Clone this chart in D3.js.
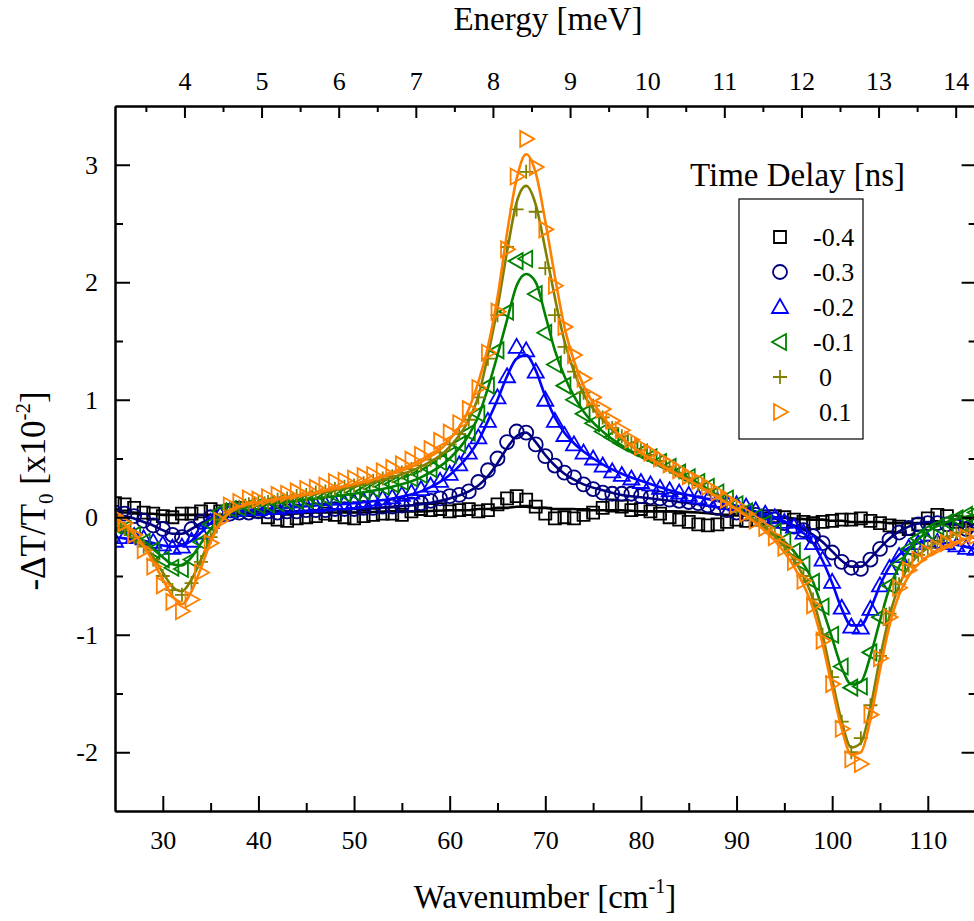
<!DOCTYPE html>
<html>
<head>
<meta charset="utf-8">
<script src="https://cdn.jsdelivr.net/npm/d3@7"></script>
<style>
  body { margin: 0; background: #fff; }
  svg text { font-family: "Liberation Serif", "Times New Roman", serif; fill: #000; }
</style>
</head>
<body>
<div class="canva"></div>
<script>
// ---- data ----
const delays = ["-0.4", "-0.3", "-0.2", "-0.1", "0", "0.1"];
const colors = ["#000000", "#000080", "#0000ff", "#008000", "#808000", "#ff8000"];
const shapes = ["square", "circle", "triUp", "triLeft", "plus", "triRight"];

// measured points (cm^-1)
const wavenumber = [25, 26, 27, 28, 29, 30, 31, 32, 33, 34, 35, 36, 37, 38, 39, 40, 41, 42, 43, 44,
  45, 46, 47, 48, 49, 50, 51, 52, 53, 54, 55, 56, 57, 58, 59, 60, 61, 62, 63, 64,
  65, 66, 67, 68, 69, 70, 71, 72, 73, 74, 75, 76, 77, 78, 79, 80, 81, 82, 83, 84,
  85, 86, 87, 88, 89, 90, 91, 92, 93, 94, 95, 96, 97, 98, 99, 100, 101, 102, 103, 104,
  105, 106, 107, 108, 109, 110, 111, 112, 113, 114, 115];

const dataM04 = [0.12, 0.11, 0.08, 0.04, 0.03, 0.01, 0.0, 0.03, 0.03, 0.05, 0.07, 0.05, 0.06, 0.08, 0.06, 0.05, 0.0, -0.02, -0.03, -0.01,
  0.0, 0.01, 0.03, 0.02, 0.0, -0.01, 0.01, 0.02, 0.03, 0.03, 0.02, 0.05, 0.07, 0.06, 0.07, 0.05, 0.06, 0.07, 0.05, 0.06,
  0.11, 0.16, 0.18, 0.15, 0.09, 0.03, -0.01, 0.0, -0.01, 0.02, 0.04, 0.08, 0.1, 0.09, 0.06, 0.07, 0.05, 0.03, 0.0, -0.02,
  -0.04, -0.06, -0.07, -0.06, -0.04, -0.02, -0.03, -0.02, -0.01, 0.01, 0.0, -0.02, -0.04, -0.05, -0.04, -0.03, -0.02, -0.02, -0.01, -0.03,
  -0.05, -0.07, -0.08, -0.1, -0.06, -0.01, 0.02, 0.01, -0.04, -0.06, -0.07];
const dataM03 = [0.04, 0.03, 0.01, -0.03, -0.07, -0.1, -0.15, -0.17, -0.1, -0.04, 0.0, 0.02, 0.03, 0.04, 0.04, 0.05, 0.05, 0.04, 0.05, 0.05,
  0.06, 0.06, 0.06, 0.07, 0.07, 0.07, 0.08, 0.08, 0.09, 0.09, 0.1, 0.11, 0.12, 0.14, 0.16, 0.18, 0.19, 0.22, 0.3, 0.4,
  0.5, 0.64, 0.73, 0.72, 0.62, 0.52, 0.44, 0.38, 0.34, 0.28, 0.24, 0.21, 0.2, 0.2, 0.2, 0.18, 0.17, 0.16, 0.15, 0.14,
  0.13, 0.12, 0.1, 0.08, 0.06, 0.04, 0.03, 0.02, 0.0, -0.02, -0.05, -0.08, -0.11, -0.16, -0.22, -0.3, -0.38, -0.43, -0.44, -0.36,
  -0.27, -0.19, -0.13, -0.09, -0.06, -0.05, -0.05, -0.06, -0.08, -0.1, -0.12];
const dataM02 = [-0.2, -0.17, -0.16, -0.18, -0.21, -0.23, -0.26, -0.25, -0.2, -0.13, -0.04, 0.02, 0.05, 0.06, 0.07, 0.07, 0.08, 0.08, 0.09, 0.09,
  0.1, 0.1, 0.11, 0.12, 0.12, 0.13, 0.14, 0.15, 0.16, 0.17, 0.19, 0.21, 0.24, 0.27, 0.31, 0.37, 0.45, 0.55, 0.68, 0.82,
  1.02, 1.2, 1.45, 1.42, 1.24, 1.0, 0.82, 0.7, 0.62, 0.55, 0.5, 0.44, 0.39, 0.36, 0.33, 0.3, 0.28, 0.25, 0.23, 0.21,
  0.19, 0.17, 0.15, 0.14, 0.12, 0.11, 0.09, 0.06, 0.03, 0.0, -0.04, -0.08, -0.13, -0.22, -0.36, -0.55, -0.77, -0.93, -0.94, -0.78,
  -0.58, -0.43, -0.33, -0.26, -0.22, -0.2, -0.21, -0.22, -0.24, -0.26, -0.27];
const dataM01 = [-0.07, -0.1, -0.15, -0.21, -0.28, -0.36, -0.43, -0.44, -0.36, -0.21, -0.06, 0.05, 0.07, 0.08, 0.09, 0.1, 0.11, 0.12, 0.13, 0.14,
  0.15, 0.16, 0.17, 0.19, 0.2, 0.21, 0.22, 0.24, 0.26, 0.28, 0.3, 0.33, 0.36, 0.41, 0.47, 0.53, 0.62, 0.72, 0.88, 1.12,
  1.42, 1.75, 2.18, 2.2, 1.9, 1.57, 1.3, 1.12, 1.0, 0.88, 0.8, 0.73, 0.68, 0.63, 0.59, 0.55, 0.51, 0.47, 0.43, 0.38,
  0.34, 0.3, 0.26, 0.21, 0.16, 0.11, 0.05, 0.0, -0.05, -0.12, -0.2, -0.29, -0.4, -0.55, -0.76, -1.0, -1.27, -1.45, -1.44, -1.15,
  -0.85, -0.58, -0.4, -0.27, -0.18, -0.12, -0.08, -0.04, -0.01, 0.02, 0.04];
const data00 = [-0.04, -0.1, -0.17, -0.25, -0.36, -0.5, -0.62, -0.66, -0.56, -0.38, -0.17, -0.02, 0.06, 0.09, 0.11, 0.13, 0.13, 0.15, 0.16, 0.18,
  0.19, 0.21, 0.22, 0.24, 0.26, 0.27, 0.29, 0.31, 0.33, 0.35, 0.38, 0.41, 0.44, 0.49, 0.55, 0.62, 0.71, 0.83, 1.02, 1.35,
  1.72, 2.3, 2.62, 2.94, 2.6, 2.12, 1.72, 1.45, 1.24, 1.06, 0.95, 0.85, 0.76, 0.69, 0.63, 0.57, 0.53, 0.48, 0.43, 0.38,
  0.33, 0.28, 0.24, 0.19, 0.13, 0.08, 0.03, -0.02, -0.08, -0.15, -0.24, -0.36, -0.5, -0.7, -1.0, -1.36, -1.74, -2.0, -1.88, -1.6,
  -1.18, -0.82, -0.57, -0.41, -0.32, -0.26, -0.21, -0.17, -0.13, -0.11, -0.1];
const dataP01 = [0.01, -0.05, -0.15, -0.28, -0.42, -0.58, -0.72, -0.8, -0.7, -0.47, -0.22, -0.03, 0.1, 0.13, 0.16, 0.15, 0.17, 0.19, 0.2, 0.22,
  0.24, 0.25, 0.27, 0.3, 0.31, 0.33, 0.35, 0.36, 0.39, 0.42, 0.45, 0.49, 0.53, 0.58, 0.65, 0.72, 0.8, 0.92, 1.1, 1.4,
  1.75, 2.28, 2.9, 3.22, 2.98, 2.45, 1.97, 1.62, 1.38, 1.18, 1.02, 0.92, 0.82, 0.74, 0.66, 0.6, 0.55, 0.5, 0.45, 0.4,
  0.35, 0.31, 0.26, 0.21, 0.15, 0.1, 0.03, -0.03, -0.09, -0.17, -0.26, -0.38, -0.54, -0.75, -1.05, -1.42, -1.8, -2.06, -2.1, -1.68,
  -1.2, -0.85, -0.6, -0.45, -0.36, -0.3, -0.26, -0.22, -0.19, -0.17, -0.16];

// fitted curves
const fitX = [25, 26, 27, 28, 29, 30, 31, 32, 33, 34, 35, 36, 38, 40, 43, 46, 50, 54, 57, 60,
  62, 63, 64, 65, 66, 67, 68, 69, 70, 71, 72, 73, 74, 76, 78, 80, 83, 86, 89, 92,
  94, 96, 98, 99, 100, 101, 102, 103, 104, 105, 106, 107, 108, 110, 112, 115];
const fitM04 = [0.05, 0.04, 0.04, 0.03, 0.03, 0.02, 0.02, 0.02, 0.02, 0.02, 0.02, 0.02, 0.03, 0.03, 0.03, 0.04, 0.04, 0.05, 0.05, 0.06,
  0.06, 0.07, 0.07, 0.08, 0.08, 0.09, 0.09, 0.08, 0.08, 0.07, 0.07, 0.07, 0.06, 0.06, 0.06, 0.05, 0.05, 0.04, 0.02, 0.01,
  0.0, -0.01, -0.02, -0.02, -0.03, -0.03, -0.04, -0.04, -0.04, -0.04, -0.05, -0.05, -0.05, -0.05, -0.06, -0.06];
const fitM03 = [0.02, 0.01, -0.01, -0.04, -0.07, -0.11, -0.14, -0.14, -0.1, -0.05, -0.01, 0.02, 0.04, 0.05, 0.05, 0.06, 0.07, 0.09, 0.11, 0.16,
  0.22, 0.27, 0.35, 0.46, 0.59, 0.69, 0.72, 0.64, 0.53, 0.44, 0.37, 0.32, 0.28, 0.23, 0.19, 0.17, 0.14, 0.11, 0.07, 0.03,
  -0.01, -0.07, -0.15, -0.21, -0.29, -0.37, -0.42, -0.42, -0.35, -0.26, -0.18, -0.12, -0.08, -0.04, -0.05, -0.1];
const fitM02 = [-0.17, -0.18, -0.19, -0.2, -0.22, -0.24, -0.25, -0.24, -0.2, -0.13, -0.05, 0.01, 0.05, 0.07, 0.08, 0.1, 0.12, 0.16, 0.22, 0.36,
  0.53, 0.65, 0.82, 1.0, 1.2, 1.35, 1.38, 1.25, 1.03, 0.85, 0.72, 0.63, 0.56, 0.45, 0.37, 0.31, 0.23, 0.17, 0.12, 0.05,
  0.0, -0.08, -0.22, -0.37, -0.56, -0.78, -0.92, -0.92, -0.78, -0.58, -0.42, -0.32, -0.26, -0.2, -0.22, -0.27];
const fitM01 = [-0.08, -0.11, -0.15, -0.2, -0.27, -0.34, -0.4, -0.41, -0.34, -0.22, -0.1, -0.01, 0.07, 0.1, 0.13, 0.16, 0.2, 0.26, 0.34, 0.5,
  0.7, 0.86, 1.1, 1.38, 1.68, 1.97, 2.07, 2.0, 1.72, 1.42, 1.2, 1.03, 0.9, 0.73, 0.61, 0.52, 0.42, 0.29, 0.13, -0.04,
  -0.14, -0.29, -0.55, -0.78, -1.03, -1.28, -1.42, -1.4, -1.18, -0.88, -0.6, -0.42, -0.28, -0.12, -0.04, 0.02];
const fit00 = [-0.05, -0.09, -0.15, -0.23, -0.34, -0.47, -0.59, -0.63, -0.53, -0.36, -0.18, -0.04, 0.08, 0.12, 0.16, 0.2, 0.26, 0.34, 0.43, 0.6,
  0.83, 1.03, 1.38, 1.78, 2.26, 2.68, 2.82, 2.66, 2.28, 1.87, 1.5, 1.24, 1.05, 0.83, 0.67, 0.55, 0.41, 0.27, 0.12, -0.03,
  -0.16, -0.36, -0.7, -1.0, -1.38, -1.74, -1.96, -1.92, -1.62, -1.2, -0.84, -0.58, -0.42, -0.26, -0.17, -0.1];
const fitP01 = [0.0, -0.06, -0.14, -0.25, -0.38, -0.53, -0.67, -0.74, -0.63, -0.43, -0.21, -0.05, 0.09, 0.13, 0.17, 0.21, 0.28, 0.37, 0.47, 0.66,
  0.92, 1.15, 1.45, 1.87, 2.42, 2.88, 3.09, 2.93, 2.52, 2.05, 1.62, 1.33, 1.12, 0.86, 0.68, 0.55, 0.4, 0.27, 0.12, -0.05,
  -0.2, -0.42, -0.78, -1.08, -1.45, -1.8, -2.02, -2.0, -1.72, -1.3, -0.92, -0.66, -0.5, -0.33, -0.24, -0.16];

const measured = [dataM04, dataM03, dataM02, dataM01, data00, dataP01];
const fitted = [fitM04, fitM03, fitM02, fitM01, fit00, fitP01];

// axis ticks
const xMajor = [30, 40, 50, 60, 70, 80, 90, 100, 110];
const xMinor = [35, 45, 55, 65, 75, 85, 95, 105, 115];
const yMajor = [-2, -1, 0, 1, 2, 3];
const yMinor = [-1.5, -0.5, 0.5, 1.5, 2.5];
const eMajor = [4, 5, 6, 7, 8, 9, 10, 11, 12, 13, 14];
const eMinor = [3.5, 4.5, 5.5, 6.5, 7.5, 8.5, 9.5, 10.5, 11.5, 12.5, 13.5];
const cmPerMeV = 8.0655;

// ---- layout ----
const width = 974, height = 921;
const plot = {left: 115, right: 975.6, top: 106, bottom: 811};
const serif = '"Liberation Serif", "Times New Roman", serif';

const svg = d3.select(".canva").append("svg")
    .attr("width", width)
    .attr("height", height)
    .attr("font-family", serif);

const x = d3.scaleLinear().domain([25, 115]).range([plot.left, plot.right]);
const y = d3.scaleLinear().domain([-2.5, 3.5]).range([plot.bottom, plot.top]);

svg.append("clipPath").attr("id", "clip")
  .append("rect")
    .attr("x", plot.left).attr("y", plot.top)
    .attr("width", plot.right - plot.left)
    .attr("height", plot.bottom - plot.top);

// marker outlines
function markerPath(shape) {
    switch (shape) {
        case "square": return "M-6,-6H6V6H-6Z";
        case "circle": return "M7,0A7,7 0 1,1 -7,0A7,7 0 1,1 7,0Z";
        case "triUp": return "M0,-8L8,6L-8,6Z";
        case "triLeft": return "M-8,0L6,-8L6,8Z";
        case "triRight": return "M8,0L-6,-8L-6,8Z";
        case "plus": return "M-7,0H7M0,-7V7";
    }
}

const dataLayer = svg.append("g").attr("clip-path", "url(#clip)");

const fitLine = d3.line()
    .x(d => x(d[0]))
    .y(d => y(d[1]))
    .curve(d3.curveMonotoneX);

measured.forEach((vals, i) => {
    const pts = wavenumber.map((w, j) => [w, vals[j]]);
    dataLayer.append("g").selectAll("path")
        .data(pts)
        .enter()
        .append("path")
        .attr("transform", d => `translate(${x(d[0])},${y(d[1])})`)
        .attr("d", markerPath(shapes[i]))
        .attr("fill", "none")
        .attr("stroke", colors[i])
        .attr("stroke-width", 1.8);

    dataLayer.append("path")
        .datum(fitX.map((w, j) => [w, fitted[i][j]]))
        .attr("d", fitLine)
        .attr("fill", "none")
        .attr("stroke", colors[i])
        .attr("stroke-width", 2.6)
        .attr("stroke-linejoin", "round");
});

// ---- axes ----
const plainNum = d => String(d);   // hyphen minus, like the original

function styleAxis(g) {
    g.attr("font-family", serif);
    g.select(".domain").attr("stroke", "#000").attr("stroke-width", 2);
    g.selectAll(".tick line").attr("stroke", "#000").attr("stroke-width", 2);
}

const bottomAxis = svg.append("g")
    .attr("transform", `translate(0,${plot.bottom})`)
    .call(d3.axisBottom(x).tickValues(xMajor).tickSize(-15).tickSizeOuter(0).tickFormat(plainNum));
bottomAxis.selectAll("text").attr("y", 38).attr("dy", 0).attr("font-size", 26);
svg.append("g")
    .attr("transform", `translate(0,${plot.bottom})`)
    .call(d3.axisBottom(x).tickValues(xMinor).tickSize(-8).tickSizeOuter(0).tickFormat(""))
    .call(styleAxis);
bottomAxis.call(styleAxis);

const leftAxis = svg.append("g")
    .attr("transform", `translate(${plot.left},0)`)
    .call(d3.axisLeft(y).tickValues(yMajor).tickSize(-15).tickSizeOuter(0).tickFormat(plainNum));
leftAxis.selectAll("text").attr("x", -17).attr("dy", "0.33em").attr("font-size", 26);
svg.append("g")
    .attr("transform", `translate(${plot.left},0)`)
    .call(d3.axisLeft(y).tickValues(yMinor).tickSize(-8).tickSizeOuter(0).tickFormat(""))
    .call(styleAxis);
leftAxis.call(styleAxis);

svg.append("g")
    .attr("transform", `translate(${plot.right},0)`)
    .call(d3.axisRight(y).tickValues(yMajor).tickSize(-14).tickSizeOuter(0).tickFormat(""))
    .call(styleAxis);
svg.append("g")
    .attr("transform", `translate(${plot.right},0)`)
    .call(d3.axisRight(y).tickValues(yMinor).tickSize(-7).tickSizeOuter(0).tickFormat(""))
    .call(styleAxis);

// top axis in meV
const xE = d3.scaleLinear()
    .domain([25 / cmPerMeV, 115 / cmPerMeV])
    .range([plot.left, plot.right]);
const topAxis = svg.append("g")
    .attr("transform", `translate(0,${plot.top})`)
    .call(d3.axisTop(xE).tickValues(eMajor).tickSize(-12).tickSizeOuter(0).tickFormat(plainNum));
topAxis.selectAll("text").attr("y", -16).attr("dy", 0).attr("font-size", 26);
svg.append("g")
    .attr("transform", `translate(0,${plot.top})`)
    .call(d3.axisTop(xE).tickValues(eMinor).tickSize(-6).tickSizeOuter(0).tickFormat(""))
    .call(styleAxis);
topAxis.call(styleAxis);

// ---- axis titles ----
const xTitle = svg.append("text")
    .attr("x", 545).attr("y", 908)
    .attr("text-anchor", "middle")
    .attr("font-size", 33);
xTitle.append("tspan").text("Wavenumber [cm");
xTitle.append("tspan").attr("font-size", 20).attr("dy", -15).text("-1");
xTitle.append("tspan").attr("dy", 15).text("]");

svg.append("text")
    .attr("x", 548).attr("y", 30)
    .attr("text-anchor", "middle")
    .attr("font-size", 33)
    .text("Energy [meV]");

const yTitle = svg.append("text")
    .attr("transform", "translate(45,491) rotate(-90)")
    .attr("text-anchor", "middle")
    .attr("font-size", 35);
yTitle.append("tspan").text("-\u0394T/T");
yTitle.append("tspan").attr("font-size", 21).attr("dy", 8).text("0");
yTitle.append("tspan").attr("dy", -8).text(" [x10");
yTitle.append("tspan").attr("font-size", 21).attr("dy", -15).text("-2");
yTitle.append("tspan").attr("dy", 15).text("]");

// ---- legend ----
svg.append("text")
    .attr("x", 690).attr("y", 186)
    .attr("font-size", 33)
    .text("Time Delay [ns]");

svg.append("rect")
    .attr("x", 739).attr("y", 199)
    .attr("width", 124).attr("height", 240)
    .attr("fill", "#fff")
    .attr("stroke", "#000")
    .attr("stroke-width", 1.2);

const rowY = d3.scalePoint().domain(delays).range([237, 412]);

const rows = svg.append("g").selectAll("g")
    .data(delays)
    .enter()
    .append("g")
    .attr("transform", d => `translate(0,${rowY(d)})`);

rows.append("path")
    .attr("transform", "translate(780,0)")
    .attr("d", (d, i) => markerPath(shapes[i]))
    .attr("fill", "none")
    .attr("stroke", (d, i) => colors[i])
    .attr("stroke-width", 1.8);

rows.append("text")
    .attr("x", d => d.startsWith("-") ? 813 : 819)
    .attr("y", 9)
    .attr("font-size", 26)
    .text(d => d);
</script>
</body>
</html>
